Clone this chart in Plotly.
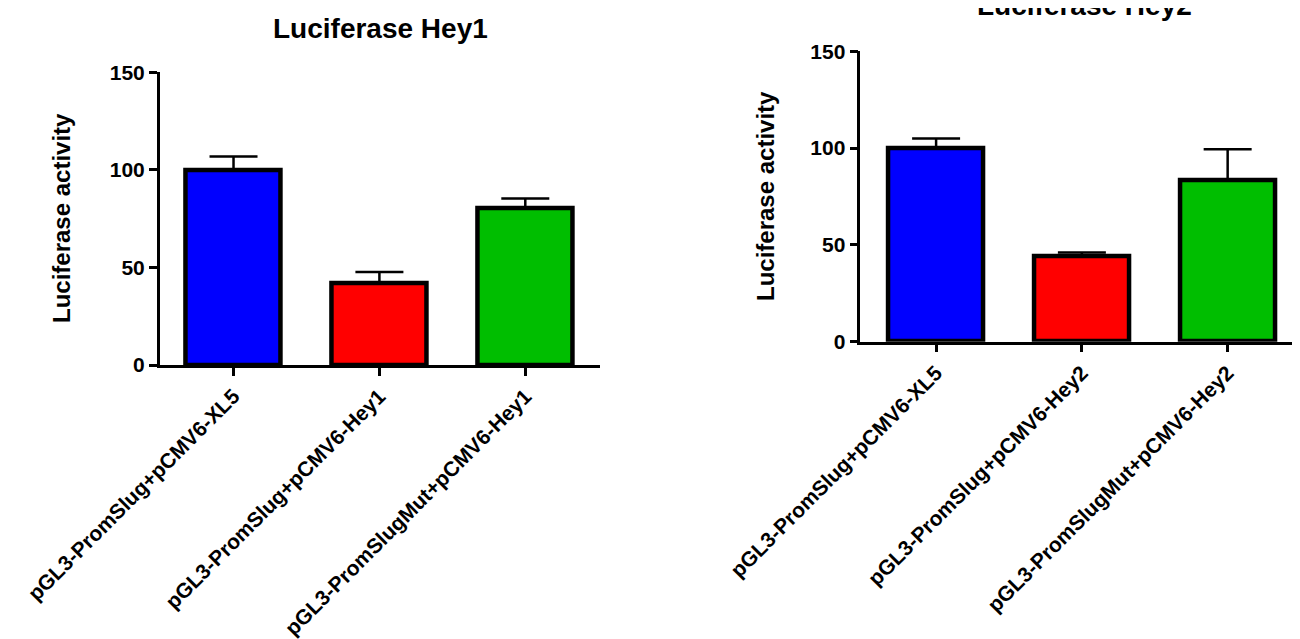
import plotly.graph_objects as go

# ---------------- data ----------------
categories_hey1 = ["pGL3-PromSlug+pCMV6-XL5", "pGL3-PromSlug+pCMV6-Hey1", "pGL3-PromSlugMut+pCMV6-Hey1"]
values_hey1 = [100, 41.8, 80.5]
errors_hey1 = [6.9, 5.8, 4.8]

categories_hey2 = ["pGL3-PromSlug+pCMV6-XL5", "pGL3-PromSlug+pCMV6-Hey2", "pGL3-PromSlugMut+pCMV6-Hey2"]
values_hey2 = [100, 44.1, 83.2]
errors_hey2 = [4.9, 2.0, 16.2]

bar_colors = ["#0000FF", "#FF0000", "#00BE00"]
y_ticks = [0, 50, 100, 150]

FONT = "Liberation Sans, Arial, sans-serif"

fig = go.Figure()

def add_bars(cats, vals, errs, xa, ya):
    fig.add_trace(go.Bar(
        x=cats, y=vals,
        xaxis=xa, yaxis=ya,
        width=0.652,
        marker=dict(color=bar_colors, line=dict(color="black", width=4.5)),
        error_y=dict(type="data", array=errs, arrayminus=[0] * len(errs),
                     symmetric=False, color="black", thickness=2.5, width=24),
        showlegend=False,
    ))

add_bars(categories_hey1, values_hey1, errors_hey1, "x", "y")
add_bars(categories_hey2, values_hey2, errors_hey2, "x2", "y2")

H = 639.0
W = 1300.0

xcommon = dict(
    type="category", showline=True, linecolor="black", linewidth=2.5,
    ticks="outside", ticklen=8, tickwidth=2.5, tickcolor="black",
    tickangle=-45, showgrid=False, zeroline=False, automargin=False,
    tickfont=dict(family=FONT, size=21, color="black", weight="bold"),
)
ycommon = dict(
    range=[0, 150], tickvals=y_ticks, showline=True, linecolor="black", linewidth=2.5,
    ticks="outside", ticklen=8, tickwidth=2.5, tickcolor="black",
    showgrid=False, zeroline=False, automargin=False,
    tickfont=dict(family=FONT, size=21, color="black", weight="bold"),
)

fig.update_layout(
    width=1300, height=639,
    margin=dict(l=0, r=0, t=0, b=0, autoexpand=False),
    paper_bgcolor="white", plot_bgcolor="white",
    bargap=0,
    xaxis=dict(**xcommon, domain=[151.7 / W, 591.7 / W], range=[-0.506, 2.51], anchor="y"),
    yaxis=dict(**ycommon, domain=[1 - 357.0 / H, 1 - 64.3 / H], anchor="x"),
    xaxis2=dict(**xcommon, domain=[852.3 / W, 1294.0 / W], range=[-0.52, 2.51], anchor="y2"),
    yaxis2=dict(**ycommon, domain=[1 - 333.7 / H, 1 - 43.3 / H], anchor="x2"),
    annotations=[
        dict(text="<b>Luciferase Hey1</b>", x=372 / W, y=1 - 20 / H, xref="paper", yref="paper",
             xanchor="center", yanchor="middle", showarrow=False,
             font=dict(family=FONT, size=28, color="black")),
        dict(text="<b>Luciferase Hey2</b>", x=1076 / W, y=1 + 2 / H, xref="paper", yref="paper",
             xanchor="center", yanchor="middle", showarrow=False,
             font=dict(family=FONT, size=28, color="black")),
        dict(text="<b>Luciferase activity</b>", x=53 / W, y=1 - 210 / H, xref="paper", yref="paper",
             xanchor="center", yanchor="middle", showarrow=False, textangle=-90,
             font=dict(family=FONT, size=24, color="black")),
        dict(text="<b>Luciferase activity</b>", x=757 / W, y=1 - 188 / H, xref="paper", yref="paper",
             xanchor="center", yanchor="middle", showarrow=False, textangle=-90,
             font=dict(family=FONT, size=24, color="black")),
    ],
)

fig.write_html("out.html")
